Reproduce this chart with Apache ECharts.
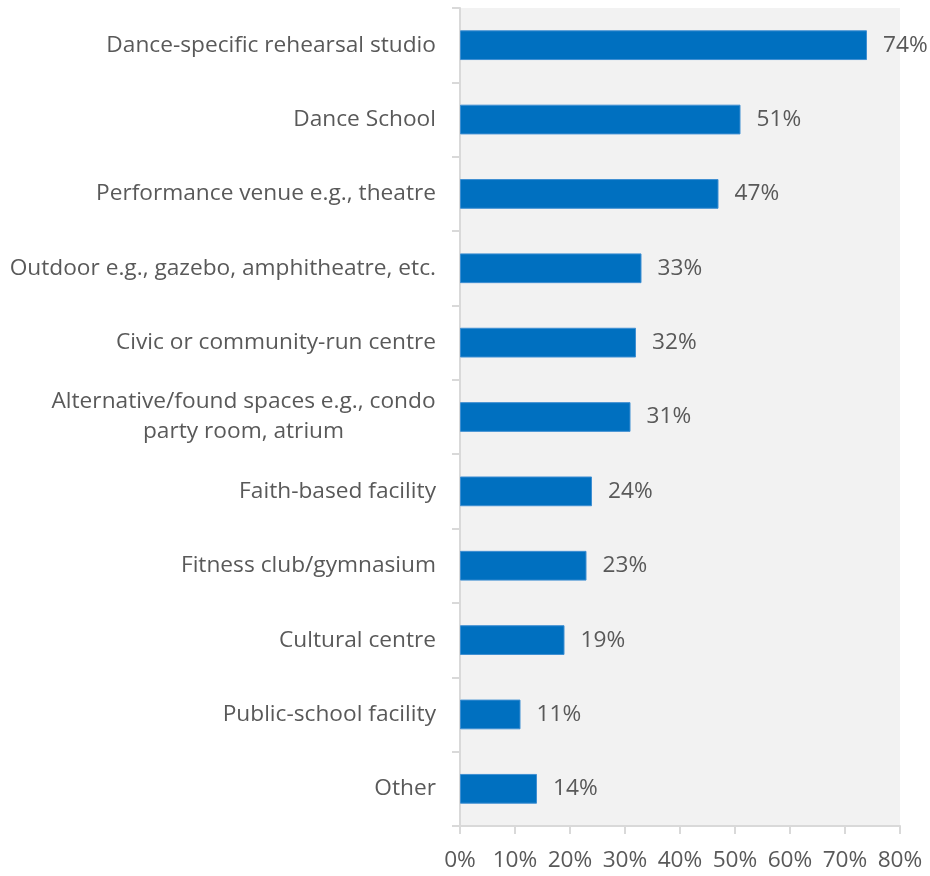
<!DOCTYPE html>
<html>
<head>
<meta charset="utf-8">
<script src="https://cdn.jsdelivr.net/npm/echarts@6/dist/echarts.min.js"></script>
<style>
  html, body { margin: 0; padding: 0; background: #ffffff; }
  #chart { width: 930px; height: 876px; }
</style>
</head>
<body>
<div id="chart"></div>
<script>
// Venue types (top to bottom) and share of respondents using each
const categories = [
  'Dance-specific rehearsal studio',
  'Dance School',
  'Performance venue e.g., theatre',
  'Outdoor e.g., gazebo, amphitheatre, etc.',
  'Civic or community-run centre',
  'Alternative/found spaces e.g., condo\nparty room, atrium',
  'Faith-based facility',
  'Fitness club/gymnasium',
  'Cultural centre',
  'Public-school facility',
  'Other'
];
const values = [74, 51, 47, 33, 32, 31, 24, 23, 19, 11, 14];
const axisTicks = [0, 10, 20, 30, 40, 50, 60, 70, 80];

const FONT = '"Open Sans", "Noto Sans", sans-serif';
const FONT_SIZE = 22.7;
const TEXT_COLOR = '#595959';

// Width of the longest line of a multi-line label, so its lines can be centred
function lineWidth(text) {
  const ctx = document.createElement('canvas').getContext('2d');
  ctx.font = FONT_SIZE + 'px ' + FONT;
  return Math.ceil(ctx.measureText(text).width);
}

const chart = echarts.init(document.getElementById('chart'));

document.fonts.ready.then(function () {
  const richWidth = lineWidth('Alternative/found spaces e.g., condo');
  chart.setOption({
    animation: false,
    grid: {
      left: 460, right: 30, top: 8, bottom: 50,
      show: true, backgroundColor: '#f2f2f2', borderWidth: 0
    },
    xAxis: {
      type: 'value',
      min: axisTicks[0],
      max: axisTicks[axisTicks.length - 1],
      interval: 10,
      splitLine: { show: false },
      axisLine: { show: true, lineStyle: { color: '#d9d9d9', width: 2 } },
      axisTick: { show: true, length: 8, lineStyle: { color: '#d9d9d9', width: 2 } },
      axisLabel: {
        formatter: '{value}%',
        color: TEXT_COLOR, fontFamily: FONT, fontSize: FONT_SIZE, margin: 23
      }
    },
    yAxis: {
      type: 'category',
      inverse: true,
      data: categories,
      axisLine: { show: true, lineStyle: { color: '#d9d9d9', width: 2 } },
      axisTick: { show: true, length: 8, alignWithLabel: false, lineStyle: { color: '#d9d9d9', width: 2 } },
      axisLabel: {
        color: TEXT_COLOR, fontFamily: FONT, fontSize: FONT_SIZE, margin: 24,
        lineHeight: 30,
        formatter: function (v) {
          if (v.indexOf('\n') >= 0) {
            return v.split('\n').map(function (s) { return '{c|' + s + '}'; }).join('\n');
          }
          return v;
        },
        rich: {
          c: {
            width: richWidth, align: 'center',
            color: TEXT_COLOR, fontFamily: FONT, fontSize: FONT_SIZE, lineHeight: 30
          }
        }
      }
    },
    series: [{
      type: 'bar',
      data: values,
      barCategoryGap: '60%',
      itemStyle: { color: '#0070c0', borderColor: '#3f8fd2', borderWidth: 1 },
      label: {
        show: true, position: 'right', distance: 16,
        formatter: '{c}%',
        color: TEXT_COLOR, fontFamily: FONT, fontSize: FONT_SIZE
      }
    }]
  });
});
</script>
</body>
</html>
